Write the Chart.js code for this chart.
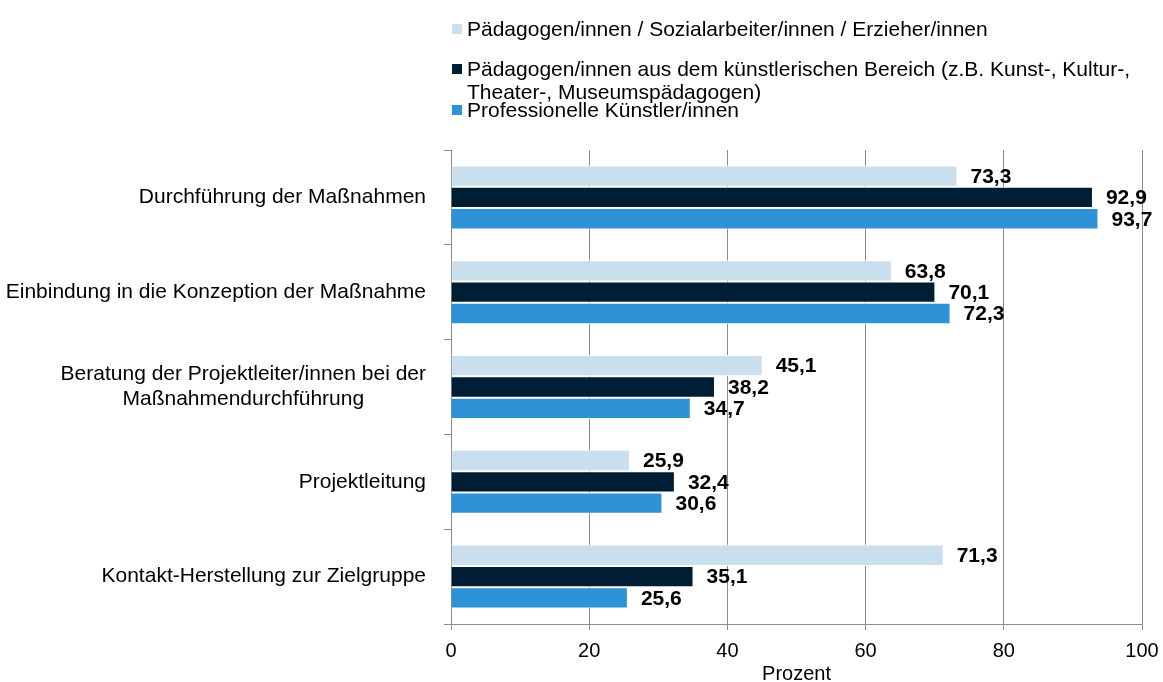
<!DOCTYPE html>
<html>
<head>
<meta charset="utf-8">
<script src="https://cdn.jsdelivr.net/npm/chart.js@4.4.0/dist/chart.umd.min.js"></script>
<style>
  html, body { margin: 0; padding: 0; background: #fff; }
  #wrap { position: relative; width: 1163px; height: 682px; }
  #legend { position: absolute; left: 452px; top: 0; font-family: "Liberation Sans", Arial, sans-serif; font-size: 21px; color: #000; }
  .item { position: absolute; left: 0; width: 700px; line-height: 22.5px; }
  .box { position: absolute; left: 0; top: 6px; width: 10px; height: 10px; }
  .txt { margin-left: 15px; }
</style>
</head>
<body>
<div id="wrap">
  <canvas id="myChart" width="1163" height="682"></canvas>
  <div id="legend"></div>
</div>
<script>
// Kategorien (von oben nach unten)
const categories = [
  'Durchführung der Maßnahmen',
  'Einbindung in die Konzeption der Maßnahme',
  ['Beratung der Projektleiter/innen bei der', 'Maßnahmendurchführung'],
  'Projektleitung',
  'Kontakt-Herstellung zur Zielgruppe'
];

const seriesNames = [
  'Pädagogen/innen / Sozialarbeiter/innen / Erzieher/innen',
  'Pädagogen/innen aus dem künstlerischen Bereich (z.B. Kunst-, Kultur-, Theater-, Museumspädagogen)',
  'Professionelle Künstler/innen'
];

const paedagogen = [73.3, 63.8, 45.1, 25.9, 71.3];
const kunstPaedagogen = [92.9, 70.1, 38.2, 32.4, 35.1];
const kuenstler = [93.7, 72.3, 34.7, 30.6, 25.6];

const xTicks = [0, 20, 40, 60, 80, 100];

const colors = ['#c9dfee', '#001e33', '#2e92d7'];
const fontFamily = '"Liberation Sans", Arial, sans-serif';

// Legende als HTML (zweiter Eintrag bricht um)
let legend = document.getElementById('legend');
seriesNames.forEach(function(name, i) {
  let item = document.createElement('div');
  item.className = 'item';
  item.style.top = (17.75 + i * 40.6) + 'px';
  item.innerHTML = '<span class="box" style="background:' + colors[i] + '"></span><div class="txt"></div>';
  item.querySelector('.txt').textContent = name;
  legend.appendChild(item);
});

// Werte rechts neben den Balken
const valueLabels = {
  id: 'valueLabels',
  afterDatasetsDraw(chart) {
    let ctx = chart.ctx;
    ctx.save();
    ctx.font = 'bold 21px ' + fontFamily;
    ctx.fillStyle = '#000';
    ctx.textAlign = 'left';
    ctx.textBaseline = 'middle';
    chart.data.datasets.forEach(function(ds, di) {
      chart.getDatasetMeta(di).data.forEach(function(bar, i) {
        ctx.fillText(ds.data[i].toFixed(1).replace('.', ','), bar.x + 13, bar.y + 1);
      });
    });
    ctx.restore();
  }
};

// Kategorie-Beschriftung: Block rechtsbündig, Zeilen zentriert
const categoryLabels = {
  id: 'categoryLabels',
  afterDraw(chart) {
    let ctx = chart.ctx;
    let y = chart.scales.y;
    ctx.save();
    ctx.font = '21px ' + fontFamily;
    ctx.fillStyle = '#000';
    ctx.textAlign = 'center';
    ctx.textBaseline = 'middle';
    categories.forEach(function(lab, i) {
      let lines = Array.isArray(lab) ? lab : [lab];
      let w = Math.max.apply(null, lines.map(function(l) { return ctx.measureText(l).width; }));
      let cx = y.right - 25 - w / 2;
      let cy = y.getPixelForValue(i);
      lines.forEach(function(l, k) {
        ctx.fillText(l, cx, cy + (k - (lines.length - 1) / 2) * 25);
      });
    });
    ctx.restore();
  }
};

let ctx = document.getElementById('myChart');
let myChart = new Chart(ctx, {
  type: 'bar',
  data: {
    labels: categories,
    datasets: [
      { label: seriesNames[0], data: paedagogen, backgroundColor: colors[0] },
      { label: seriesNames[1], data: kunstPaedagogen, backgroundColor: colors[1] },
      { label: seriesNames[2], data: kuenstler, backgroundColor: colors[2] }
    ]
  },
  options: {
    indexAxis: 'y',
    responsive: false,
    animation: false,
    layout: { padding: { top: 150, right: 21, left: 0, bottom: 0 } },
    datasets: {
      bar: {
        categoryPercentage: 0.675,
        barPercentage: 1,
        borderWidth: 1,
        borderColor: '#ffffff'
      }
    },
    plugins: {
      legend: { display: false },
      tooltip: { enabled: false }
    },
    scales: {
      x: {
        min: 0,
        max: 100,
        afterBuildTicks: function(s) { s.ticks = xTicks.map(function(v) { return { value: v }; }); },
        ticks: { color: '#000', font: { family: fontFamily, size: 20 }, padding: 9 },
        grid: { color: '#8c8c8c', tickLength: 6 },
        border: { color: '#8c8c8c' },
        title: {
          display: true,
          text: 'Prozent',
          color: '#000',
          font: { family: fontFamily, size: 20, lineHeight: 1 },
          padding: { top: 0, bottom: -2 }
        },
        afterFit: function(s) {
          s.height = 58;
          s.paddingLeft = 0;
          s.paddingRight = 0;
        }
      },
      y: {
        ticks: { display: false },
        grid: { drawOnChartArea: false, offset: true, tickLength: 7, color: '#8c8c8c' },
        border: { color: '#8c8c8c' },
        afterFit: function(s) { s.width = 451; }
      }
    }
  },
  plugins: [valueLabels, categoryLabels]
});
</script>
</body>
</html>
